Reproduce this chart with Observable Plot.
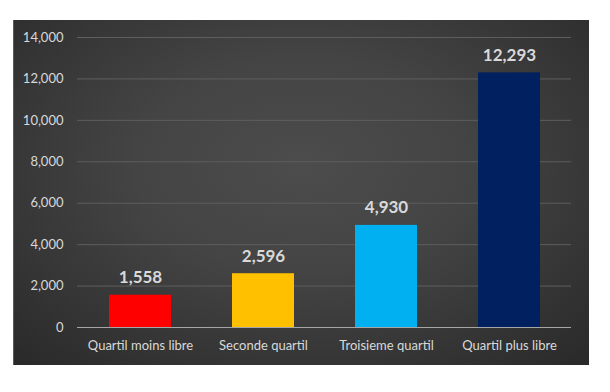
<!DOCTYPE html>
<html>
<head>
<meta charset="utf-8">
<script src="https://cdn.jsdelivr.net/npm/d3@7"></script>
<script src="https://cdn.jsdelivr.net/npm/@observablehq/plot@0.6"></script>
<style>
  html, body { margin: 0; padding: 0; background: #ffffff; }
  #wrap { position: relative; width: 610px; height: 392px; overflow: hidden; }
  #panel {
    position: absolute; left: 13px; top: 20px; width: 576px; height: 345px;
    background: radial-gradient(ellipse 72% 78% at 50% 42%, #4c4c4c 0%, #444444 40%, #2a2a2a 100%);
    border-left: 1px solid #5a5a5a;
    box-sizing: border-box;
  }
  #chart { position: absolute; left: 0; top: 0; }
</style>
</head>
<body>
<div id="wrap"><div id="panel"></div><div id="chart"></div></div>
<script>
const categories = ["Quartil moins libre", "Seconde quartil", "Troisieme quartil", "Quartil plus libre"];
const values = [1558, 2596, 4930, 12293];
const colors = ["#FF0000", "#FFC000", "#00B0F0", "#002060"];
const yTicks = [0, 2000, 4000, 6000, 8000, 10000, 12000, 14000];

const data = categories.map((c, i) => ({category: c, value: values[i], color: colors[i]}));
const fmt = d3.format(",");

const plot = Plot.plot({
  width: 610,
  height: 392,
  marginLeft: 77,
  marginRight: 39,
  marginTop: 37,
  marginBottom: 65,
  style: {background: "transparent", fontFamily: "Lato, 'Open Sans', sans-serif", color: "#d9d9d9"},
  x: {domain: categories, paddingInner: 0.5, paddingOuter: 0.25, label: null, tickSize: 0, tickPadding: 12},
  y: {domain: [0, 14000], ticks: yTicks, tickFormat: fmt, label: null, tickSize: 0, tickPadding: 14},
  marks: [
    Plot.ruleY(yTicks.filter(d => d > 0), {stroke: "#5e5e5e", strokeWidth: 1}),
    Plot.barY(data, {x: "category", y: "value", fill: "color"}),
    Plot.ruleY([0], {stroke: "#a6a6a6", strokeWidth: 1}),
    Plot.text(data, {x: "category", y: "value", text: d => fmt(d.value), lineAnchor: "bottom", dy: -12,
      fill: "#d9d9d9", fontSize: 17, fontWeight: "bold"}),
    Plot.axisX({tickSize: 0, tickPadding: 13, fontSize: 13, fill: "#d9d9d9", label: null}),
    Plot.axisY({ticks: yTicks, tickFormat: fmt, tickSize: 0, tickPadding: 14, fontSize: 13, fill: "#d9d9d9", label: null})
  ]
});
document.getElementById("chart").appendChild(plot);
</script>
</body>
</html>
